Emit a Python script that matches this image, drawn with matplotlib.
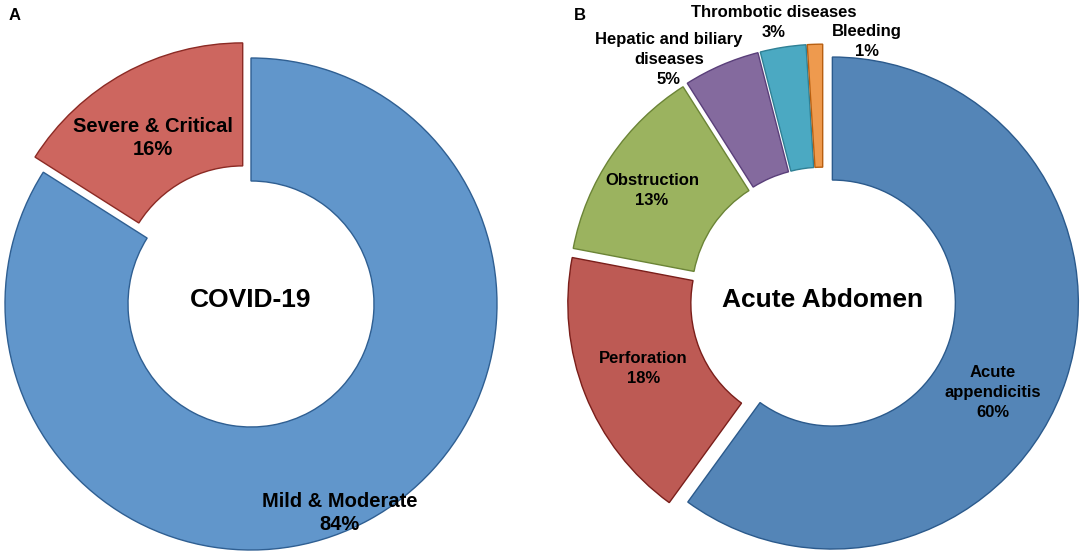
import matplotlib
matplotlib.use("Agg")
import matplotlib.pyplot as plt

plt.rcParams['font.family'] = ['Liberation Sans', 'DejaVu Sans']

# panel A data
covid_labels = ["Mild & Moderate", "Severe & Critical"]
covid_values = [84, 16]
covid_colors = ["#6196CB", "#CD665F"]
covid_edges = ["#2F5F92", "#8B2A24"]
covid_explode = [0, 0.07]

# panel B data
abd_labels = ["Acute\nappendicitis", "Perforation", "Obstruction",
              "Hepatic and biliary\ndiseases", "Thrombotic diseases", "Bleeding"]
abd_values = [60, 18, 13, 5, 3, 1]
abd_colors = ["#5485B7", "#BD5A54", "#9BB35F", "#846A9E", "#4BA9C2", "#EE9A4E"]
abd_edges = ["#2B5A8C", "#7A1E1A", "#6B8436", "#5A3F7A", "#2F8095", "#B85F10"]
abd_explode = [0.04] * 6

W, H = 1084, 556
R = 246      # ring outer radius in pixels
SPAN = 1.2

fig = plt.figure(figsize=(W / 100, H / 100), dpi=100)


def ring_axes(cx, cy):
    # cx, cy: ring centre in pixels, y measured from the top
    return fig.add_axes([(cx - SPAN * R) / W, (H - cy - SPAN * R) / H,
                         2 * SPAN * R / W, 2 * SPAN * R / H])


def draw_ring(ax, values, colors, edges, explode):
    wedges, _ = ax.pie(values, colors=colors, explode=explode, startangle=90,
                       counterclock=False, radius=1,
                       wedgeprops=dict(width=0.5, linewidth=1.0))
    for w, ec in zip(wedges, edges):
        w.set_edgecolor(ec)
    ax.set_xlim(-SPAN, SPAN)
    ax.set_ylim(-SPAN, SPAN)
    ax.set_aspect('equal')
    ax.axis('off')


def label(ax, x, y, text, size, step):
    # one text per line, stacked around (x, y); step in points
    lines = text.split("\n")
    n = len(lines)
    for i, ln in enumerate(lines):
        off = ((n - 1) / 2 - i) * step
        ax.annotate(ln, (x, y), xytext=(0, off), textcoords='offset points',
                    ha='center', va='center', fontsize=size, fontweight='bold')


# ---- A ----
axA = ring_axes(251, 304)
draw_ring(axA, covid_values, covid_colors, covid_edges, covid_explode)
covid_pos = [(0.36, -0.85), (-0.40, 0.675)]
for lab, v, (x, y) in zip(covid_labels, covid_values, covid_pos):
    label(axA, x, y, f"{lab}\n{v}%", 14.5, 16.6)
axA.text(0, 0.015, "COVID-19", ha='center', va='center', fontsize=19, fontweight='bold')

# ---- B ----
axB = ring_axes(823, 300)
draw_ring(axB, abd_values, abd_colors, abd_edges, abd_explode)
abd_pos = [(0.69, -0.374), (-0.73, -0.28), (-0.695, 0.447),
           (-0.626, 0.976), (-0.2, 1.13), (0.18, 1.05)]
for lab, v, (x, y) in zip(abd_labels, abd_values, abd_pos):
    label(axB, x, y, f"{lab}\n{v}%", 12, 14.4)
axB.text(0, 0.0, "Acute Abdomen", ha='center', va='center', fontsize=19, fontweight='bold')

fig.text(15 / W, 1 - 16 / H, "A", ha='center', va='center', fontsize=12, fontweight='bold')
fig.text(580 / W, 1 - 16 / H, "B", ha='center', va='center', fontsize=12, fontweight='bold')

fig.savefig("out.png", dpi=100)
